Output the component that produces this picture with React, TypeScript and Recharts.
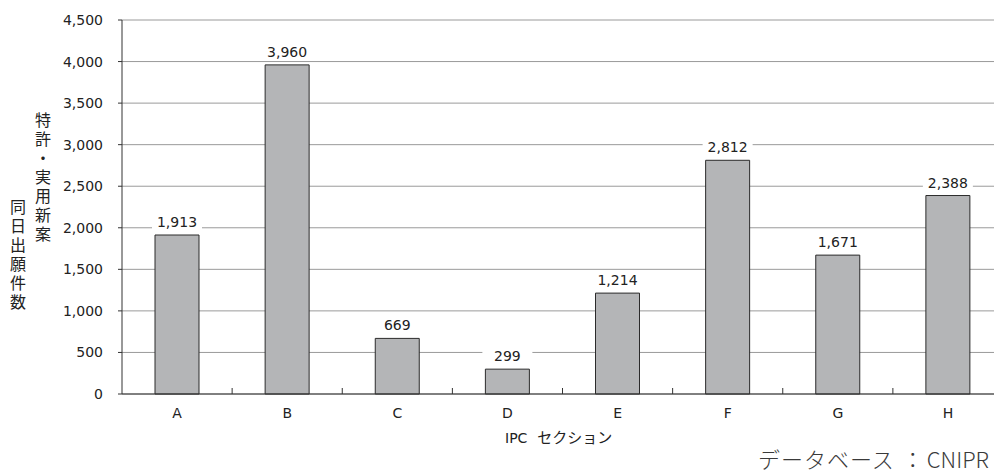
import { BarChart, Bar, XAxis, YAxis, CartesianGrid, LabelList } from "recharts";

// IPC sections and same-day filing counts
const sections = ["A", "B", "C", "D", "E", "F", "G", "H"];
const counts = [1913, 3960, 669, 299, 1214, 2812, 1671, 2388];
const yTicks = [0, 500, 1000, 1500, 2000, 2500, 3000, 3500, 4000, 4500];

const data = sections.map((s, i) => ({ section: s, count: counts[i] }));

const CHART_W = 1010;
const CHART_H = 475;
const MARGIN = { top: 20, right: 7, bottom: 0, left: 0 };
const Y_AXIS_W = 122;
const BAND = (CHART_W - MARGIN.left - MARGIN.right - Y_AXIS_W) / sections.length;

const NUM_FONT = "'DejaVu Sans', Arial, sans-serif";
const JP_FONT = "'Noto Sans CJK JP', sans-serif";
const JP_LIGHT = "'Noto Sans CJK JP Light', 'Noto Sans CJK JP', sans-serif";

const fmt = (v: number) => v.toLocaleString("en-US");

// category label plus a short inward tick at the left boundary of each band
const XTick = (props: any) => {
  const { x, y, payload, index } = props;
  return (
    <g>
      {index > 0 && (
        <line x1={x - BAND / 2} x2={x - BAND / 2} y1={y} y2={y - 6} stroke="#333" strokeWidth={1} />
      )}
      <text
        x={x}
        y={y + 19}
        textAnchor="middle"
        dominantBaseline="central"
        fontFamily={NUM_FONT}
        fontSize={14}
        fill="#222"
      >
        {payload.value}
      </text>
    </g>
  );
};

// value label with a white box so gridlines stop behind it
const ValueLabel = (props: any) => {
  const { x, y, width, value } = props;
  const cx = x + width / 2;
  const cy = y - 13;
  return (
    <g>
      <rect x={cx - 25} y={cy - 8} width={50} height={16} fill="#fff" />
      <text
        x={cx}
        y={cy}
        textAnchor="middle"
        dominantBaseline="central"
        fontFamily={NUM_FONT}
        fontSize={14}
        fill="#222"
      >
        {fmt(value)}
      </text>
    </g>
  );
};

export default function App() {
  return (
    <div
      style={{
        position: "absolute",
        left: 0,
        top: 0,
        width: 994,
        height: 475,
        overflow: "hidden",
        background: "#fff",
      }}
    >
      <BarChart width={CHART_W} height={CHART_H} data={data} margin={MARGIN} barSize={44}>
        <CartesianGrid vertical={false} stroke="#9a9a9a" />
        <XAxis
          dataKey="section"
          height={81}
          tickLine={false}
          tickSize={0}
          tickMargin={0}
          axisLine={{ stroke: "#333" }}
          tick={<XTick />}
          interval={0}
        />
        <YAxis
          width={Y_AXIS_W}
          domain={[0, 4500]}
          ticks={yTicks}
          tickFormatter={fmt}
          tickSize={4}
          tickMargin={15}
          axisLine={{ stroke: "#333" }}
          tickLine={{ stroke: "#333" }}
          tick={{ fontFamily: NUM_FONT, fontSize: 14, fill: "#222" }}
        />
        <Bar dataKey="count" fill="#b4b5b7" stroke="#2b2b2b" strokeWidth={1} isAnimationActive={false}>
          <LabelList dataKey="count" content={<ValueLabel />} />
        </Bar>
      </BarChart>

      <div
        style={{
          position: "absolute",
          left: 35,
          top: 112,
          writingMode: "vertical-rl",
          fontFamily: JP_FONT,
          fontSize: 16,
          lineHeight: 1,
          letterSpacing: 3,
          color: "#222",
        }}
      >
        特許・実用新案
      </div>
      <div
        style={{
          position: "absolute",
          left: 10,
          top: 199,
          writingMode: "vertical-rl",
          fontFamily: JP_FONT,
          fontSize: 16,
          lineHeight: 1,
          letterSpacing: 3,
          color: "#222",
        }}
      >
        同日出願件数
      </div>

      <div
        style={{
          position: "absolute",
          left: 505,
          top: 429,
          fontFamily: JP_FONT,
          fontSize: 15,
          lineHeight: 1,
          color: "#222",
          whiteSpace: "nowrap",
        }}
      >
        <span style={{ fontFamily: NUM_FONT, fontSize: 14 }}>IPC</span>
        <span style={{ marginLeft: 10 }}>セクション</span>
      </div>

      <div
        style={{
          position: "absolute",
          right: 5,
          top: 447,
          fontFamily: JP_LIGHT,
          fontSize: 22,
          fontWeight: 300,
          lineHeight: 1,
          color: "#3a3a3a",
          whiteSpace: "nowrap",
        }}
      >
        <span style={{ letterSpacing: 1 }}>データベース</span>
        <span style={{ marginLeft: 7, marginRight: 3 }}>：</span>
        <span>CNIPR</span>
      </div>
    </div>
  );
}
